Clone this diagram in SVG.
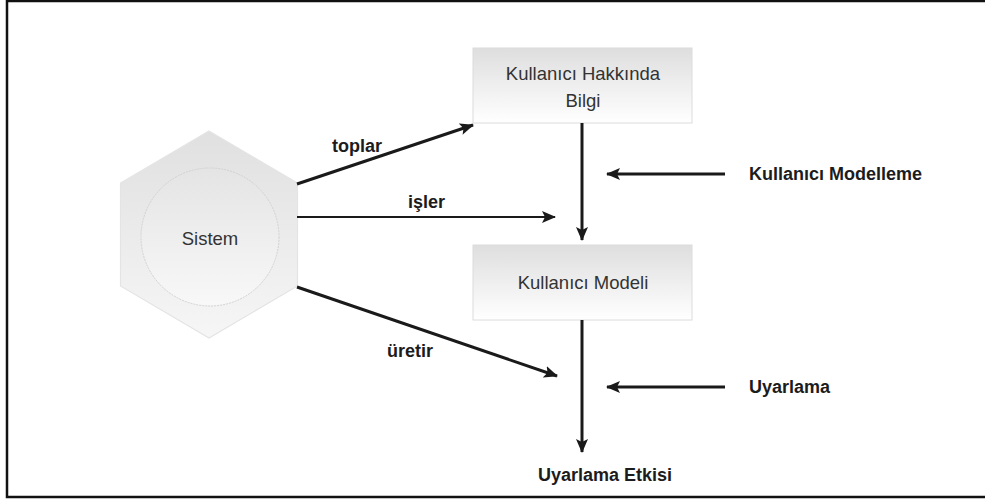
<svg xmlns="http://www.w3.org/2000/svg" width="985" height="503" viewBox="0 0 985 503">
  <style>
    .frame { fill: #ffffff; stroke: #111111; stroke-width: 2.5; }
    .box { fill: url(#boxFill); stroke: #dcdcdc; stroke-width: 1; }
    .hex { fill: url(#hexFill); stroke: #e4e4e4; stroke-width: 1.2; }
    .disc { fill: url(#discFill); stroke: #d2d2d2; stroke-width: 1; stroke-dasharray: 2 1; }
    .node-text { font-family: "Liberation Sans", Arial, sans-serif; font-size: 18.5px; fill: #333333; text-anchor: middle; }
    .label { font-family: "Liberation Sans", Arial, sans-serif; font-size: 18px; font-weight: bold; fill: #1c1c1c; }
    .wire { fill: none; stroke: #1a1a1a; stroke-width: 3; marker-end: url(#head); }
    .wire.thin { stroke-width: 2.2; }
  </style>
  <defs>
    <linearGradient id="boxFill" x1="0" y1="0" x2="0" y2="1">
      <stop offset="0" stop-color="#dedede"/>
      <stop offset="1" stop-color="#ffffff"/>
    </linearGradient>
    <linearGradient id="hexFill" x1="0" y1="0" x2="0" y2="1">
      <stop offset="0" stop-color="#e0e0e0"/>
      <stop offset="1" stop-color="#f6f6f6"/>
    </linearGradient>
    <linearGradient id="discFill" x1="0" y1="0" x2="0" y2="1">
      <stop offset="0" stop-color="#e4e4e4"/>
      <stop offset="1" stop-color="#f8f8f8"/>
    </linearGradient>
    <marker id="head" viewBox="0 0 14 12" refX="13" refY="6" markerWidth="14" markerHeight="12" markerUnits="userSpaceOnUse" orient="auto">
      <path d="M0,0 L14,6 L0,12 L3,6 Z" fill="#1a1a1a"/>
    </marker>
  </defs>

  <!-- outer frame (right edge runs past the canvas) -->
  <rect class="frame" x="7" y="1" width="995" height="496"/>

  <!-- system hexagon -->
  <g id="sistem">
    <polygon class="hex" points="209,131 297.5,183 297.5,286 209,338 120.5,286 120.5,183"/>
    <circle class="disc" cx="210" cy="237" r="69"/>
    <text class="node-text" x="210" y="245">Sistem</text>
  </g>

  <!-- information about the user -->
  <g id="kullanici-bilgi">
    <rect class="box" x="473" y="48" width="219" height="75"/>
    <text class="node-text" x="583" y="80">Kullanıcı Hakkında</text>
    <text class="node-text" x="583" y="107">Bilgi</text>
  </g>

  <!-- user model -->
  <g id="kullanici-modeli">
    <rect class="box" x="473" y="245" width="219" height="75"/>
    <text class="node-text" x="583" y="289">Kullanıcı Modeli</text>
  </g>

  <!-- free-standing labels -->
  <g id="modelleme">
    <text class="label" x="749" y="180">Kullanıcı Modelleme</text>
  </g>
  <g id="uyarlama">
    <text class="label" x="749" y="393">Uyarlama</text>
  </g>
  <g id="uyarlama-etkisi">
    <text class="label" x="538" y="481">Uyarlama Etkisi</text>
  </g>

  <!-- connectors -->
  <g id="connectors">
    <line class="wire" x1="297" y1="184" x2="473" y2="125"/>
    <line class="wire thin" x1="297" y1="217" x2="555" y2="217"/>
    <line class="wire" x1="297" y1="287" x2="557" y2="376"/>
    <line class="wire" x1="582" y1="123" x2="582" y2="240"/>
    <line class="wire" x1="582" y1="320" x2="582" y2="452"/>
    <line class="wire" x1="725" y1="174" x2="607" y2="174"/>
    <line class="wire" x1="725" y1="387" x2="607" y2="387"/>
    <text class="label" x="332" y="152">toplar</text>
    <text class="label" x="408" y="208">işler</text>
    <text class="label" x="387" y="357">üretir</text>
  </g>
</svg>
